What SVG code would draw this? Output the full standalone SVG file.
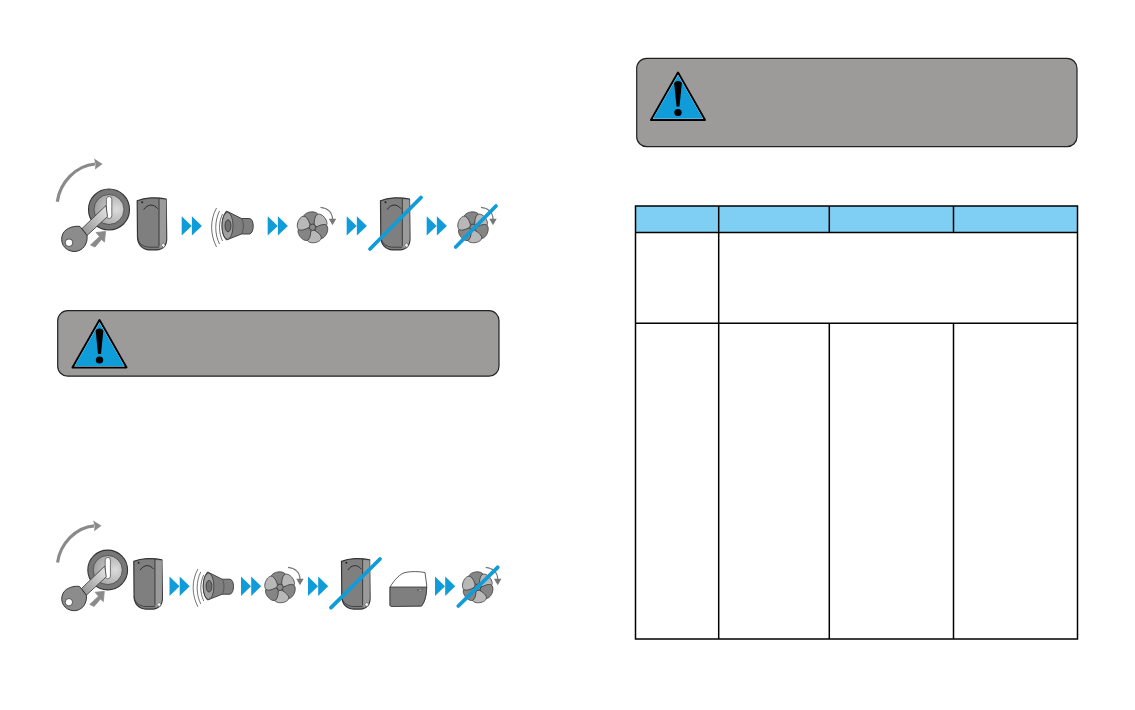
<svg xmlns="http://www.w3.org/2000/svg" xmlns:xlink="http://www.w3.org/1999/xlink" width="1135" height="710" viewBox="0 0 1135 710">
<style>
.ln{fill:none;stroke:#000;stroke-width:1.5}
.panel{fill:#9c9b9a;stroke:#222;stroke-width:1.2}
.slash{fill:none;stroke:#0f9cd8;stroke-width:3.8;stroke-linecap:round}
.blue{fill:#0f9cd8}
.gr{fill:#8a8a8a}
</style>
<defs>
<radialGradient id="lockG" cx="0.75" cy="0.5" r="0.8"><stop offset="0" stop-color="#dcdcdc"/><stop offset="1" stop-color="#9a9a9a"/></radialGradient>
<linearGradient id="shaftG" x1="0" y1="1" x2="1" y2="0"><stop offset="0" stop-color="#8f8f8f"/><stop offset="1" stop-color="#e8e8e8"/></linearGradient>
<g id="key">
<path d="M-51.700-7.800C-49-27-33-44-14-45.500" fill="none" stroke="#8a8a8a" stroke-width="3.200"/>
<path class="gr" d="M-6.500-45.500L-15-51L-13.500-45.500L-14-40Z"/>
<circle r="20.500" fill="#777" stroke="#333" stroke-width="1.100"/>
<circle r="15" fill="url(#lockG)" stroke="#444" stroke-width="0.8"/>
<rect x="-2.600" y="-13" width="5.400" height="22" rx="2.700" fill="#fff" stroke="#555" stroke-width="0.8"/>
<path d="M-27 19L-3-4L-1.500 7L-22 26Z" fill="url(#shaftG)" stroke="#444" stroke-width="0.9"/>
<path d="M-29 17C-34 16-43 18-46 24C-50 32-45 41.500-35 42C-26 42-21 34-22 26Z" fill="#8c8c8c" stroke="#333" stroke-width="1"/>
<circle cx="-40" cy="33.200" r="3.800" fill="#fff" stroke="#333" stroke-width="0.8"/>
<path class="gr" d="M-18.500 35.500L-9.500 27L-13 23L-3.500 22L-4.500 32.500L-7.500 30L-14 37.500Z" stroke="#8a8a8a" stroke-width="0.8"/>
</g>
<g id="remote">
<path d="M0.500 4C8 0.800 20 0.200 29.500 2.500L30 42C30 49 26 53 20 53.200L13 53.200C5 53 0.800 47 0.800 40Z" fill="#7f7f7f" stroke="#333" stroke-width="1.200"/>
<path d="M22.600 2.500L29.500 3L29.500 42C29.500 46 28 49 24 51.500L22.600 49Z" fill="#9a9a9a"/>
<path d="M22.300 1.500L22.300 49.500" stroke="#333" stroke-width="0.9" fill="none"/>
<path d="M7 13C11 7 17 7 21 12" fill="none" stroke="#222" stroke-width="0.9"/>
<circle cx="5.500" cy="5.500" r="1" fill="#222"/>
<path d="M24.500 48.500L26.500 46L28.500 48.500L27 51Z" fill="#f2f2f2" stroke="#444" stroke-width="0.5"/>
<path d="M0.800 40C1 46 6 50.500 13 50.500L22 50.500" fill="none" stroke="#333" stroke-width="0.8"/>
</g>
<g id="chev">
<path class="blue" d="M0-0.500L10 9.200L0 18.900Z"/>
<path class="blue" d="M10.200-0.500L20.200 9.200L10.200 18.900Z"/>
</g>
<g id="speaker">
<path d="M4 0C-2.500 12-2.500 26 4 39M7 3C2 13 2 26 7 36M10 6C6 15 6 24 10 33" fill="none" stroke="#333" stroke-width="0.7"/>
<path d="M14 3C8 9 8 27 14 32L29 26L37 26C42 25 42 11 37 10.500L29 10.500Z" fill="#7f7f7f" stroke="#333" stroke-width="0.9"/>
<ellipse cx="15" cy="17.800" rx="5.500" ry="13.500" fill="#a0a0a0" stroke="#333" stroke-width="0.8"/>
<ellipse cx="15.500" cy="17.800" rx="3" ry="6" fill="#6f6f6f" stroke="#333" stroke-width="0.8"/>
<path d="M29 10.500C31.500 14 31.500 22 29 26" fill="none" stroke="#444" stroke-width="0.7"/>
</g>
<path id="petal" d="M0-2.500C-3-4-7-8-7.300-11C-7.300-14-3.500-15.500 0-15.500C3.500-15.500 7.300-14 7.300-11C7-8 3-4 0-2.500Z" stroke="#333" stroke-width="0.7"/>
<g id="fan">
<g transform="rotate(-8)">
<use xlink:href="#petal" href="#petal" fill="#858585"/>
<use xlink:href="#petal" href="#petal" fill="#b8b8b8" transform="rotate(60)"/>
<use xlink:href="#petal" href="#petal" fill="#858585" transform="rotate(120)"/>
<use xlink:href="#petal" href="#petal" fill="#b8b8b8" transform="rotate(180)"/>
<use xlink:href="#petal" href="#petal" fill="#858585" transform="rotate(240)"/>
<use xlink:href="#petal" href="#petal" fill="#b8b8b8" transform="rotate(300)"/>
</g>
<circle r="3.200" fill="#8a8a8a" stroke="#333" stroke-width="0.8"/>
<path d="M8-20C15-19.500 20-15 20-8" fill="none" stroke="#777" stroke-width="1.200"/>
<path d="M20-2L16.300-8.500L23.700-8.500Z" fill="#777"/>
</g>
<g id="warn">
<path d="M0-47.500L27 0L-27 0Z" fill="#fff" stroke="#000" stroke-width="2" stroke-linejoin="round"/>
<path d="M0-45L25-1.300L-25-1.300Z" fill="#0f9cd8"/>
<path d="M-3.800-36.500C-3.800-40 3.800-40 3.800-36.500L1.500-13.500L-1.500-13.500Z" fill="#000"/>
<ellipse cx="0" cy="-7.500" rx="3.700" ry="3.600" fill="#000"/>
</g>
</defs>

<g id="sequence-1">
<use href="#key" xlink:href="#key" x="109" y="209.500"/>
<use href="#remote" xlink:href="#remote" x="136.700" y="196.700"/>
<use href="#chev" xlink:href="#chev" x="181.700" y="216.700"/>
<use href="#speaker" xlink:href="#speaker" x="212.500" y="208"/>
<use href="#chev" xlink:href="#chev" x="267.700" y="216.700"/>
<use href="#fan" xlink:href="#fan" x="312.500" y="227.300"/>
<use href="#chev" xlink:href="#chev" x="346.700" y="216.700"/>
<use href="#remote" xlink:href="#remote" x="380" y="196.700"/>
<path class="slash" d="M370 249L421 197.500"/>
<use href="#chev" xlink:href="#chev" x="426.700" y="216.700"/>
<use href="#fan" xlink:href="#fan" x="473" y="227.300"/>
<path class="slash" d="M455.700 247L496 206"/>
</g>

<g id="warning-1">
<rect class="panel" x="57.700" y="310.700" width="441.300" height="65.500" rx="10"/>
<use href="#warn" xlink:href="#warn" x="99.500" y="367.500"/>
</g>

<g id="sequence-2">
<use href="#key" xlink:href="#key" transform="translate(107.700 570) scale(.97)"/>
<use href="#remote" xlink:href="#remote" transform="translate(133.300 557.500) scale(.97)"/>
<use href="#chev" xlink:href="#chev" x="169.500" y="577"/>
<use href="#speaker" xlink:href="#speaker" transform="translate(194 569) scale(.97)"/>
<use href="#chev" xlink:href="#chev" x="241" y="577"/>
<use href="#fan" xlink:href="#fan" x="280" y="587.300"/>
<use href="#chev" xlink:href="#chev" x="308" y="577"/>
<use href="#remote" xlink:href="#remote" transform="translate(341 557.500) scale(.97)"/>
<path class="slash" d="M331 607.700L380 559"/>
<g id="door">
<path d="M390 587C395 579 400 574 405 572.500C412 571 419 571.500 425 572.500L426.700 585L426.500 590C426 598 424 603 421.500 606L390 606Z" fill="#fff" stroke="#333" stroke-width="0.8"/>
<path d="M390 587L426.700 587C426.500 597 424 603 421.500 606L392 606.500C390.500 606.500 390 605 390 604Z" fill="#7f7f7f" stroke="#333" stroke-width="0.8"/>
<path d="M417 590L423 589L420.500 591Z" fill="#eee" stroke="#333" stroke-width="0.5"/>
</g>
<use href="#chev" xlink:href="#chev" x="435" y="577"/>
<use href="#fan" xlink:href="#fan" x="477.700" y="587.300"/>
<path class="slash" d="M458.300 606L497.700 567.300"/>
</g>

<g id="warning-2">
<rect class="panel" x="636.700" y="58.300" width="440.300" height="88.400" rx="10"/>
<use href="#warn" xlink:href="#warn" x="678" y="120"/>
</g>

<g id="table">
<rect x="635.500" y="206" width="442" height="26.500" fill="#7fcff5"/>
<rect class="ln" x="635.500" y="206" width="442" height="433"/>
<path class="ln" d="M635.500 232.500H1077.500M635.500 323.300H1077.500M718.700 206V639M829.300 206V232.500M953.500 206V232.500M829.300 323.300V639M953.500 323.300V639"/>
</g>
</svg>
